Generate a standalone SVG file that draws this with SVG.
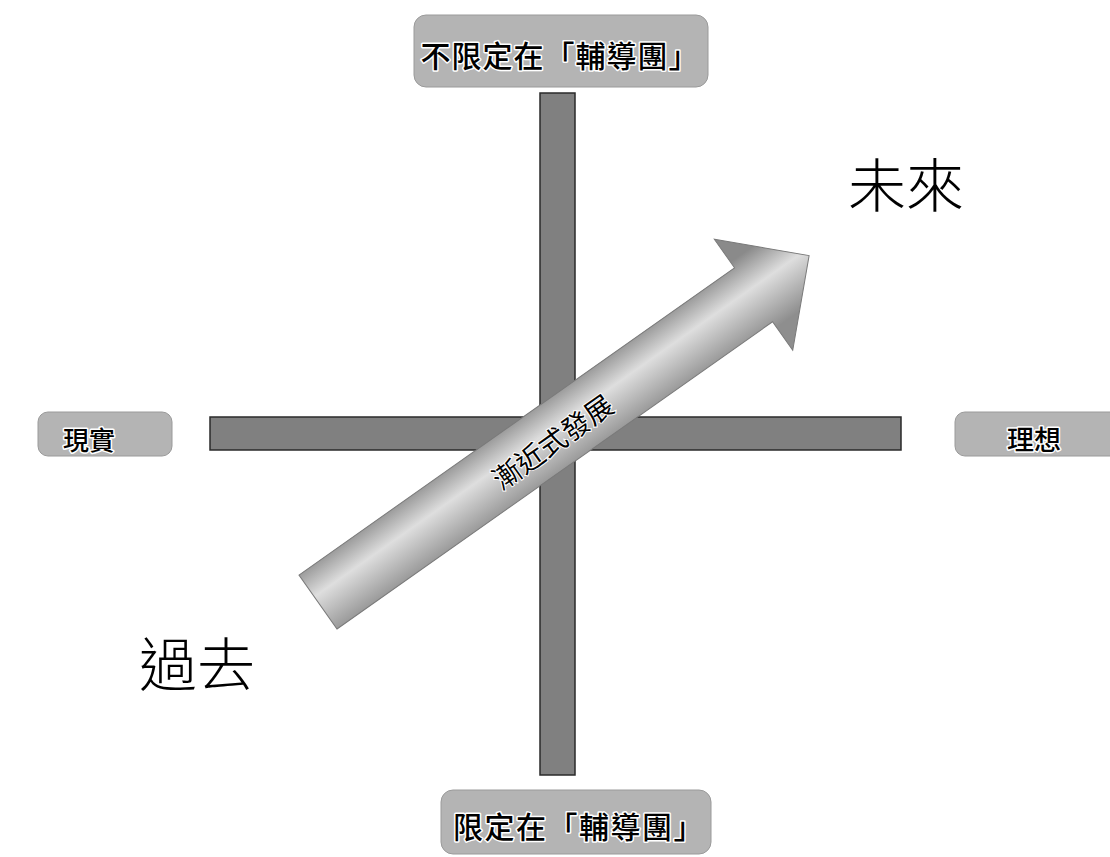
<svg xmlns="http://www.w3.org/2000/svg" width="1110" height="857" viewBox="0 0 1110 857">
  <style>
    .bar { fill: #808080; stroke: #2a2a2a; stroke-width: 1.5; }
    .box { fill: #b4b4b4; stroke: #9a9a9a; stroke-width: 1; }
    .lbl { font-family: "Noto Sans CJK TC", "Noto Sans CJK SC", sans-serif; font-weight: 500; fill: #000; stroke: #ffffff; stroke-width: 3; paint-order: stroke; stroke-linejoin: round; text-anchor: middle; }
    .big { font-family: "Noto Sans CJK TC", "Noto Sans CJK SC", sans-serif; font-weight: 300; fill: #000; text-anchor: middle; font-size: 58px; }
    .arrtxt { font-family: "Noto Sans CJK TC", "Noto Sans CJK SC", sans-serif; font-weight: 400; fill: #000; stroke: #ffffff; stroke-width: 2; paint-order: stroke; text-anchor: middle; font-size: 28px; }
  </style>
  <defs>
    <linearGradient id="arrGrad" gradientUnits="userSpaceOnUse" x1="0" y1="-40" x2="0" y2="40">
      <stop offset="0" stop-color="#8a8a8a"/>
      <stop offset="0.42" stop-color="#dedede"/>
      <stop offset="1" stop-color="#8e8e8e"/>
    </linearGradient>
  </defs>
  <rect width="1110" height="857" fill="#ffffff"/>

  <g id="connectors">
    <rect id="v-axis" class="bar" x="540" y="93" width="35" height="682"/>
    <rect id="h-axis" class="bar" x="210" y="417" width="691" height="33"/>
    <g id="progress-arrow" transform="translate(318,602) rotate(-35.2)">
      <path d="M0,-33 L533,-33 L533,-68 L601,0 L533,68 L533,33 L0,33 Z" fill="url(#arrGrad)" stroke="#7a7a7a" stroke-width="1"/>
      <text class="arrtxt" x="284" y="15">漸近式發展</text>
    </g>
  </g>

  <g id="node-top">
    <rect class="box" x="414" y="15" width="294" height="72" rx="12"/>
    <text class="lbl" x="560" y="67" font-size="30" letter-spacing="1">不限定在「輔導團」</text>
  </g>
  <g id="node-bottom">
    <rect class="box" x="441" y="790" width="270" height="64" rx="12"/>
    <text class="lbl" x="579" y="838" font-size="30" letter-spacing="1.5">限定在「輔導團」</text>
  </g>
  <g id="node-left">
    <rect class="box" x="38" y="412" width="134" height="44" rx="10"/>
    <text class="lbl" x="89" y="450" font-size="26">現實</text>
  </g>
  <g id="node-right">
    <rect class="box" x="955" y="412" width="170" height="44" rx="10"/>
    <text class="lbl" x="1034" y="450" font-size="27">理想</text>
  </g>
  <g id="node-future">
    <text class="big" x="906" y="207">未來</text>
  </g>
  <g id="node-past">
    <text class="big" x="197" y="686">過去</text>
  </g>
</svg>
